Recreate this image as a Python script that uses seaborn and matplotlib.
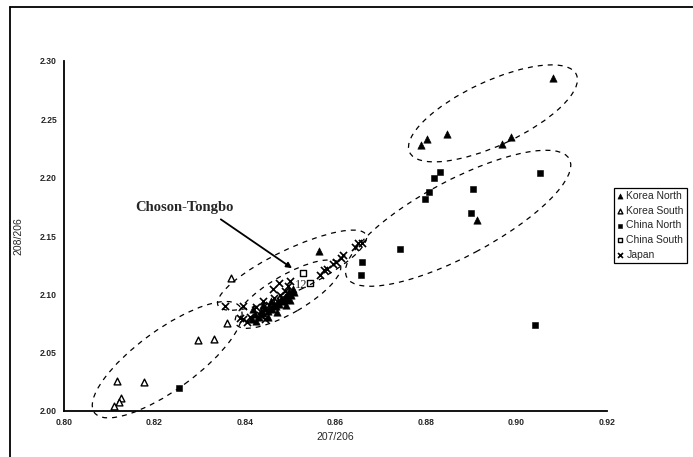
import matplotlib
matplotlib.use("Agg")
import matplotlib.pyplot as plt
import matplotlib.transforms as mtransforms
from matplotlib.patches import Ellipse
from matplotlib.lines import Line2D
import pandas as pd
import seaborn as sns

# Valores (207/206 x 208/206)
korea_north_x = [0.9080, 0.8846, 0.8802, 0.8789, 0.8988, 0.8968, 0.8913, 0.8564,
                 0.8415, 0.8422, 0.8430, 0.8435, 0.8440, 0.8445, 0.8450, 0.8455,
                 0.8460, 0.8463, 0.8468, 0.8472, 0.8476, 0.8480, 0.8484, 0.8488,
                 0.8492, 0.8495, 0.8498, 0.8502, 0.8505, 0.8508, 0.8440, 0.8425,
                 0.8450, 0.8470, 0.8490, 0.8458, 0.8418, 0.8500]
korea_north_y = [2.285, 2.237, 2.233, 2.228, 2.235, 2.229, 2.164, 2.137,
                 2.079, 2.083, 2.081, 2.086, 2.084, 2.088, 2.086, 2.089,
                 2.087, 2.092, 2.090, 2.094, 2.092, 2.096, 2.094, 2.098,
                 2.096, 2.100, 2.103, 2.099, 2.105, 2.102, 2.091, 2.077,
                 2.081, 2.085, 2.091, 2.094, 2.087, 2.095]

korea_south_x = [0.8369, 0.8360, 0.8296, 0.8331, 0.8117, 0.8177, 0.8126, 0.8122, 0.8110]
korea_south_y = [2.114, 2.075, 2.061, 2.062, 2.026, 2.025, 2.011, 2.008, 2.004]

china_north_x = [0.8831, 0.8818, 0.8807, 0.8798, 0.8904, 0.8899, 0.9052, 0.8743,
                 0.8659, 0.8656, 0.9041, 0.8254]
china_north_y = [2.205, 2.200, 2.188, 2.182, 2.190, 2.170, 2.204, 2.139,
                 2.128, 2.117, 2.074, 2.020]

china_south_x = [0.8528, 0.8544]
china_south_y = [2.118, 2.110]

japan_x = [0.8356, 0.8396, 0.8390, 0.8404, 0.8475, 0.8462, 0.8566, 0.8575,
           0.8581, 0.8594, 0.8601, 0.8612, 0.8617, 0.8643, 0.8650, 0.8659,
           0.8425, 0.8440, 0.8452, 0.8465, 0.8478, 0.8488, 0.8495, 0.8500,
           0.8433, 0.8445, 0.8410, 0.8395]
japan_y = [2.090, 2.090, 2.080, 2.076, 2.110, 2.105, 2.117, 2.121,
           2.122, 2.126, 2.128, 2.131, 2.134, 2.141, 2.144, 2.144,
           2.089, 2.094, 2.091, 2.097, 2.099, 2.103, 2.107, 2.111,
           2.082, 2.079, 2.081, 2.079]

x_ticks = [0.80, 0.82, 0.84, 0.86, 0.88, 0.90, 0.92]
y_ticks = [2.00, 2.05, 2.10, 2.15, 2.20, 2.25, 2.30]

# elipses tracejadas: centro (dados), semi-eixos em pixels, ângulo
elipses = [
    (0.8948, 2.2551, 92, 32, 25),
    (0.8871, 2.1652, 126, 38, 28),
    (0.8504, 2.1207, 82, 21, 25.5),
    (0.8495, 2.1002, 60, 19, 30),
    (0.8228, 2.0440, 90, 30, 36),
]

series = [
    ("Korea North", korea_north_x, korea_north_y),
    ("Korea South", korea_south_x, korea_south_y),
    ("China North", china_north_x, china_north_y),
    ("China South", china_south_x, china_south_y),
    ("Japan", japan_x, japan_y),
]
df = pd.concat(
    [pd.DataFrame({"x": xs, "y": ys, "grupo": nome}) for nome, xs, ys in series],
    ignore_index=True,
)

estilos = {
    "Korea North": dict(marker="^", color="black", edgecolor="black", s=28),
    "Korea South": dict(marker="^", facecolor="white", edgecolor="black", s=24, linewidth=1.0),
    "China North": dict(marker="s", color="black", edgecolor="black", s=24),
    "China South": dict(marker="s", facecolor="white", edgecolor="black", s=24, linewidth=1.0),
    "Japan": dict(marker="x", color="black", s=26, linewidth=1.2),
}

sns.set_style("white")
plt.rcParams["font.family"] = ["Liberation Sans", "DejaVu Sans"]

fig = plt.figure(figsize=(6.93, 4.57), dpi=100)
ax = fig.add_axes([64 / 693, 1 - 411 / 457, 543 / 693, 350 / 457])

for nome, _, _ in series:
    sub = df[df["grupo"] == nome]
    sns.scatterplot(data=sub, x="x", y="y", ax=ax, label=nome, **estilos[nome])

for cx, cy, a, b, ang in elipses:
    tr = mtransforms.Affine2D().scale(fig.dpi / 100) + mtransforms.ScaledTranslation(cx, cy, ax.transData)
    ax.add_patch(Ellipse((0, 0), 2 * a, 2 * b, angle=ang, transform=tr,
                         fill=False, edgecolor="black", linestyle=(0, (4, 4)),
                         linewidth=0.9, clip_on=False))

ax.annotate("Choson-Tongbo", xy=(0.8504, 2.1224), xytext=(0.8157, 2.174),
            fontsize=10.5, fontweight="bold", family="Liberation Serif", va="center",
            arrowprops=dict(arrowstyle="-|>", color="black", lw=1.3,
                            shrinkA=2, shrinkB=0, mutation_scale=8,
                            relpos=(0.8, 0.0)))
ax.text(0.8525, 2.108, "12", fontsize=9, family="Liberation Serif", ha="center", va="center")

ax.set_xlim(0.80, 0.92)
ax.set_ylim(2.00, 2.30)
ax.set_xticks(x_ticks)
ax.set_yticks(y_ticks)
ax.set_xticklabels([f"{v:.2f}" for v in x_ticks])
ax.set_yticklabels([f"{v:.2f}" for v in y_ticks])
ax.tick_params(direction="in", length=3, width=1, labelsize=6.2, pad=5)
for lab in ax.get_xticklabels() + ax.get_yticklabels():
    lab.set_fontweight("bold")
ax.set_xlabel("207/206", fontsize=7.5, labelpad=4)
ax.set_ylabel("208/206", fontsize=7.5, labelpad=12)
ax.spines["top"].set_visible(False)
ax.spines["right"].set_visible(False)
for s in ["left", "bottom"]:
    ax.spines[s].set_linewidth(1.3)
    ax.spines[s].set_color("black")

leg = ax.legend(loc="upper left", bbox_to_anchor=(614 / 693, 1 - 188 / 457),
                bbox_transform=fig.transFigure, fontsize=7.5, frameon=True,
                fancybox=False, framealpha=1, edgecolor="black", borderaxespad=0,
                handlelength=0.6, handletextpad=0.3, labelspacing=0.45,
                borderpad=0.3, markerscale=0.7)
leg.get_frame().set_linewidth(0.9)

# moldura da figura (esquerda e topo)
fig.add_artist(Line2D([10 / 693, 10 / 693], [0, 1 - 7 / 457], transform=fig.transFigure,
                      color="black", linewidth=1.3))
fig.add_artist(Line2D([10 / 693, 1], [1 - 7 / 457, 1 - 7 / 457], transform=fig.transFigure,
                      color="black", linewidth=1.3))

fig.savefig("out.png", dpi=100)
